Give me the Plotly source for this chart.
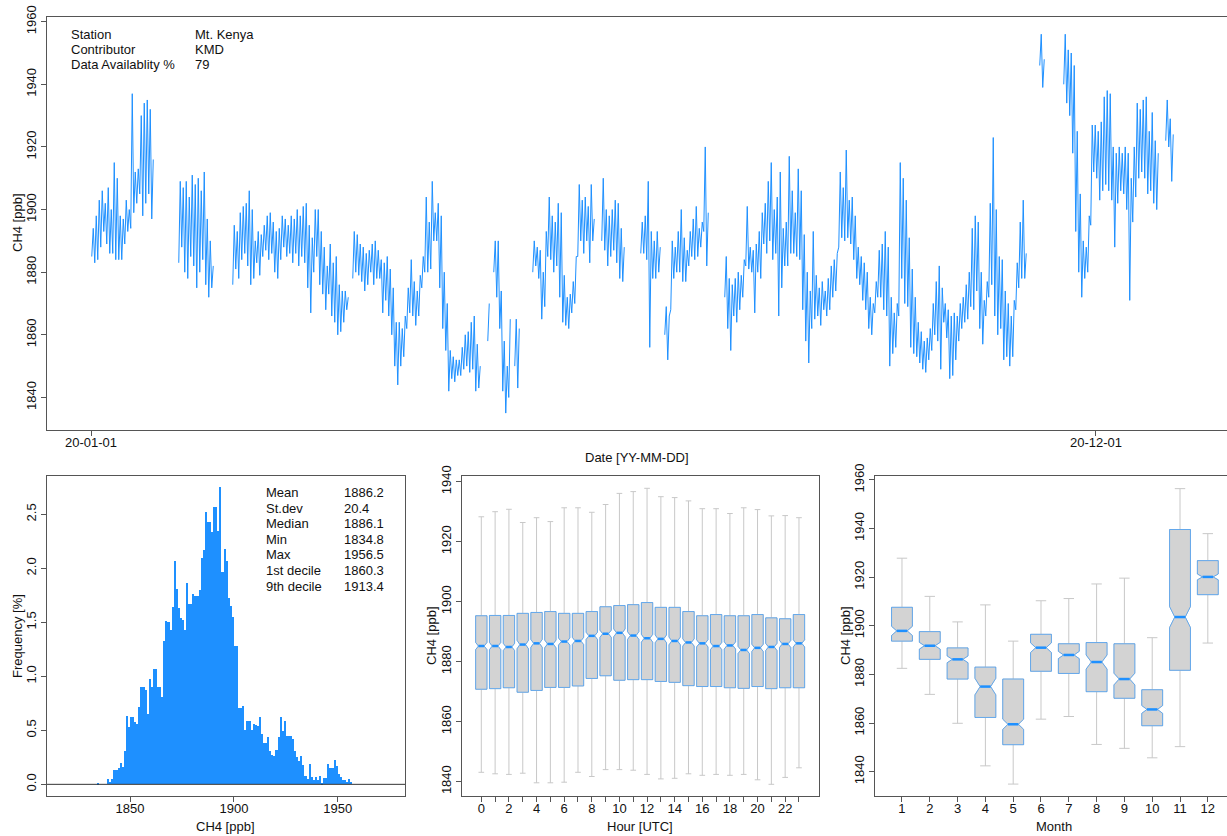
import plotly.graph_objects as go
import pandas as pd

W, H = 1227, 836
FONT = "Liberation Sans, Arial, sans-serif"
BLUE = "#1E90FF"
AXC = "#555555"

# ---------------- Time series (daily min / max) ----------------
# segments of consecutive days (day 0 = 2020-01-01)
segments = [(0, 20), (29, 40), (47, 85), (87, 129), (132, 132), (134, 139), (141, 142),
            (147, 167), (170, 177), (183, 189), (191, 205), (211, 311), (316, 317),
            (324, 355), (358, 360)]
daily_min = [
    1885, 1883, 1884, 1888, 1893, 1889, 1886, 1886, 1884, 1884, 1884, 1889, 1893, 1894, 1899, 1902, 1905, 1898, 1902, 1905, 1897,
    1883, 1888, 1880, 1878, 1885, 1882, 1875, 1880, 1884, 1876, 1872, 1875,
    1876, 1881, 1878, 1884, 1886, 1882, 1876, 1878, 1883, 1879, 1885, 1887, 1884, 1886, 1880, 1878, 1884, 1888, 1885, 1886, 1883, 1886, 1882,
    1885, 1883, 1875, 1867, 1880, 1885, 1876, 1873, 1868, 1873, 1866, 1864, 1860, 1861, 1864, 1868,
    1878, 1880, 1879, 1877, 1874, 1876, 1880, 1876, 1878, 1878, 1867, 1871, 1866, 1860, 1850, 1844, 1850, 1853, 1862, 1867, 1866,
    1863, 1866, 1875, 1880, 1880, 1881, 1890, 1890, 1875, 1862, 1855, 1842, 1846, 1845, 1847, 1847, 1849, 1850, 1848, 1849, 1842, 1843,
    1858,
    1880, 1872, 1862, 1842, 1835, 1840,
    1850, 1843,
    1880, 1882, 1878, 1865, 1869, 1885, 1884, 1880, 1882, 1872, 1864, 1863, 1862, 1867, 1870, 1885, 1890, 1886, 1890, 1883, 1890,
    1890, 1887, 1882, 1885, 1887, 1883, 1878, 1877,
    1886, 1886, 1884, 1856, 1878, 1878, 1880,
    1860, 1852, 1868, 1878, 1880, 1880, 1877, 1877, 1882, 1885, 1884, 1885, 1888, 1893, 1882,
    1872, 1862, 1855, 1866,
    1864, 1868, 1872, 1882, 1881, 1880, 1867, 1880, 1878, 1889, 1886, 1890, 1884, 1886, 1866, 1875, 1882, 1882, 1886, 1886,
    1885, 1884, 1868, 1858, 1851, 1862, 1865, 1866, 1863, 1868, 1866, 1868, 1872, 1874, 1888, 1891, 1890, 1891, 1889, 1884,
    1878, 1876, 1871, 1868, 1862, 1860, 1867, 1872, 1872, 1868, 1866, 1850, 1854, 1856, 1866, 1878, 1870, 1869, 1856, 1854,
    1853, 1851, 1849, 1848, 1852, 1855, 1860, 1858, 1849, 1864, 1859, 1846,
    1847, 1852, 1858, 1862, 1864, 1865, 1869, 1868, 1874, 1862, 1857, 1866, 1872, 1876, 1866, 1860, 1862, 1852, 1853, 1850,
    1853, 1868, 1875, 1878, 1878,
    1946, 1939,
    1940, 1934, 1930, 1918, 1893, 1880, 1872, 1878, 1880, 1895, 1912, 1910, 1903, 1906, 1908, 1906, 1903, 1888, 1902, 1906,
    1905, 1900, 1871, 1896, 1904, 1910, 1912, 1910, 1905, 1906, 1902, 1900,
    1922, 1920, 1909,
]
daily_max = [
    1894, 1898, 1903, 1906, 1902, 1907, 1900, 1915, 1910, 1898, 1897, 1903, 1900, 1937, 1912, 1913, 1930, 1934, 1935, 1932, 1916,
    1909, 1907, 1909, 1904, 1911, 1908, 1910, 1906, 1912, 1897, 1890, 1882,
    1895, 1893, 1899, 1901, 1902, 1906, 1900, 1890, 1893, 1892, 1895, 1898, 1899, 1896, 1893, 1894, 1898, 1897, 1895, 1898, 1897, 1900, 1898,
    1901, 1902, 1895, 1891, 1900, 1900, 1893, 1888, 1882, 1889, 1883, 1885, 1876, 1874, 1874, 1872,
    1893, 1892, 1889, 1888, 1886, 1887, 1889, 1890, 1887, 1884, 1883, 1885, 1881, 1875, 1864, 1864, 1862, 1866, 1875, 1884, 1877,
    1874, 1879, 1885, 1904, 1896, 1909, 1899, 1902, 1898, 1880, 1870, 1855, 1853, 1852, 1852, 1856, 1860, 1861, 1864, 1866, 1857, 1850,
    1870,
    1890, 1890, 1874, 1858, 1850, 1865,
    1865, 1862,
    1890, 1888, 1887, 1880, 1893, 1904, 1898, 1896, 1902, 1899, 1879, 1872, 1873, 1877, 1885, 1908, 1903, 1904, 1901, 1908, 1897,
    1910, 1900, 1898, 1900, 1903, 1902, 1894, 1888,
    1896, 1898, 1909, 1893, 1890, 1893, 1888,
    1869, 1866, 1890, 1888, 1893, 1900, 1891, 1887, 1893, 1897, 1901, 1894, 1896, 1920, 1899,
    1885, 1878, 1876, 1878,
    1880, 1879, 1884, 1901, 1888, 1887, 1889, 1893, 1899, 1902, 1909, 1915, 1900, 1904, 1912, 1894, 1896, 1917, 1906, 1899,
    1913, 1906, 1892, 1880, 1874, 1893, 1879, 1875, 1877, 1874, 1878, 1882, 1884, 1886, 1912, 1907, 1919, 1903, 1904, 1898,
    1888, 1885, 1883, 1880, 1872, 1870, 1877, 1887, 1889, 1893, 1888, 1872, 1867, 1870, 1915, 1910, 1903, 1891, 1881, 1872,
    1864, 1861, 1858, 1859, 1862, 1870, 1877, 1882, 1875, 1870, 1868, 1866,
    1867, 1866, 1870, 1872, 1876, 1880, 1894, 1898, 1896, 1880, 1871, 1877, 1902, 1923, 1900, 1885, 1884, 1874, 1870, 1866,
    1871, 1883, 1896, 1903, 1886,
    1956, 1948,
    1956, 1951, 1950, 1946, 1925, 1905, 1890, 1888, 1898, 1927, 1927, 1925, 1928, 1936, 1938, 1937, 1920, 1918, 1920, 1918,
    1920, 1918, 1910, 1920, 1934, 1932, 1935, 1936, 1925, 1931, 1922, 1918,
    1935, 1929, 1924,
]

# ---------------- Histogram (1 ppb bins, frequency %) ----------------
hist_start = 1834
hist_freq = [
    0.015, 0, 0, 0, 0, 0.05, 0.02, 0.05, 0.13, 0.13, 0.15, 0.2, 0.16, 0.31, 0.63, 0.53,
    0.62, 0.62, 0.58, 0.56, 0.72, 0.9, 0.9, 0.87, 0.65, 0.98, 0.9, 1.07, 1.07, 0.9,
    0.9, 0.81, 1.33, 1.51, 1.5, 1.43, 1.64, 2.07, 1.81, 1.63, 1.54, 1.52, 1.43, 1.86,
    1.67, 1.67, 1.76, 1.74, 1.74, 1.8, 2.1, 2.17, 2.52, 2.43, 2.43, 2.34, 2.57, 2.57,
    2.35, 2.75, 1.97, 2.18, 2.07, 1.73, 1.65, 1.55, 1.28, 1.28, 0.71, 0.71, 0.73, 0.5,
    0.59, 0.59, 0.5, 0.56, 0.55, 0.54, 0.62, 0.47, 0.38, 0.38, 0.44, 0.31, 0.27, 0.26,
    0.32, 0.44, 0.62, 0.49, 0.59, 0.45, 0.45, 0.45, 0.42, 0.31, 0.25, 0.22, 0.26, 0.18,
    0.08, 0.05, 0.19, 0.07, 0.04, 0.07, 0.04, 0.08, 0.01, 0.06, 0.06, 0.19, 0.15, 0.15,
    0.23, 0.17, 0.1, 0.07, 0.04, 0.04, 0.02, 0.05, 0.02,
]
stat_names = ["Mean", "St.dev", "Median", "Min", "Max", "1st decile", "9th decile"]
stat_values = ["1886.2", "20.4", "1886.1", "1834.8", "1956.5", "1860.3", "1913.4"]

info_names = ["Station", "Contributor", "Data Availablity %"]
info_values = ["Mt. Kenya", "KMD", "79"]

# ---------------- Hourly box plot ----------------
hours = list(range(24))
hour_hi = [1928.3, 1930.0, 1930.8, 1926.4, 1928.0, 1926.7, 1931.3, 1931.3, 1929.8, 1932.4, 1936.1, 1936.7,
           1937.8, 1935.0, 1934.7, 1933.6, 1931.0, 1931.0, 1929.4, 1931.3, 1930.7, 1928.6, 1928.7, 1928.0]
hour_q3 = [1895.3, 1895.4, 1895.4, 1896.1, 1896.4, 1896.7, 1896.1, 1896.1, 1896.7, 1898.3, 1898.7, 1899.0,
           1899.7, 1898.1, 1898.1, 1896.7, 1895.3, 1895.7, 1895.3, 1895.3, 1895.7, 1894.6, 1894.3, 1895.7]
hour_med = [1885.2, 1885.2, 1884.9, 1885.7, 1886.1, 1885.9, 1886.7, 1886.9, 1888.6, 1889.3, 1889.6, 1888.7,
            1887.8, 1887.6, 1886.9, 1886.4, 1886.1, 1885.2, 1885.4, 1883.9, 1884.6, 1884.9, 1885.9, 1886.1]
hour_q1 = [1870.8, 1871.0, 1871.3, 1869.8, 1870.4, 1871.4, 1871.4, 1871.9, 1874.4, 1875.3, 1873.8, 1874.0,
           1874.0, 1873.4, 1873.1, 1872.0, 1871.7, 1871.7, 1871.3, 1871.1, 1871.7, 1871.0, 1871.3, 1871.3]
hour_lo = [1843.1, 1842.6, 1842.4, 1842.8, 1839.6, 1839.6, 1839.8, 1843.1, 1841.7, 1844.0, 1844.0, 1843.8,
           1842.4, 1840.9, 1841.1, 1842.6, 1842.1, 1842.4, 1842.1, 1842.4, 1840.6, 1839.1, 1841.4, 1844.6]
hour_notch = [1.2, 1.2, 1.2, 1.4, 1.3, 1.3, 1.2, 1.2, 1.2, 1.2, 1.3, 1.3,
              1.3, 1.3, 1.3, 1.2, 1.2, 1.2, 1.2, 1.2, 1.2, 1.2, 1.2, 1.2]

# ---------------- Monthly box plot ----------------
months = list(range(1, 13))
mon_hi = [1927.8, 1912.1, 1901.6, 1908.6, 1893.7, 1910.3, 1911.2, 1917.2, 1919.6, 1895.1, 1956.4, 1937.9]
mon_q3 = [1907.6, 1897.6, 1890.9, 1883.0, 1878.1, 1896.5, 1892.6, 1893.1, 1892.6, 1873.7, 1939.6, 1926.8]
mon_med = [1897.9, 1891.8, 1886.2, 1875.0, 1859.5, 1891.0, 1888.0, 1885.1, 1878.1, 1865.6, 1903.6, 1920.1]
mon_q1 = [1893.7, 1886.2, 1878.1, 1862.3, 1851.1, 1881.3, 1880.4, 1872.9, 1870.2, 1858.9, 1881.7, 1912.8]
mon_lo = [1882.5, 1871.8, 1859.9, 1842.4, 1834.9, 1861.6, 1862.7, 1851.2, 1849.6, 1845.7, 1850.3, 1892.9]
mon_notch = [1.9, 1.4, 1.4, 3.4, 2.1, 2.0, 1.5, 2.9, 2.4, 1.6, 4.3, 1.2]

# =====================================================================
def fx(x):
    return x / W


def fy(y):
    return 1 - y / H


base = pd.Timestamp("2020-01-01")
ts_x, ts_y = [], []
k = 0
for a, b in segments:
    for d in range(a, b + 1):
        t = base + pd.Timedelta(days=d)
        ts_x.append((t + pd.Timedelta(hours=6)).strftime("%Y-%m-%d %H:%M"))
        ts_y.append(daily_min[k])
        ts_x.append((t + pd.Timedelta(hours=18)).strftime("%Y-%m-%d %H:%M"))
        ts_y.append(daily_max[k])
        k += 1
    ts_x.append((base + pd.Timedelta(days=b, hours=23)).strftime("%Y-%m-%d %H:%M"))
    ts_y.append(None)

fig = go.Figure()

fig.add_trace(go.Scatter(x=ts_x, y=ts_y, mode="lines", line=dict(color=BLUE, width=1),
                         connectgaps=False, xaxis="x", yaxis="y", hoverinfo="skip"))

bin_centers = [hist_start + i + 0.5 for i in range(len(hist_freq))]
fig.add_trace(go.Bar(x=bin_centers, y=hist_freq, width=1.0, marker=dict(color=BLUE, line=dict(width=0)),
                     xaxis="x2", yaxis="y2"))

WHISK = "#C8C8C8"
BOXLINE = "rgba(30,144,255,0.6)"
FILL = "#D3D3D3"


def add_boxes(pos, lo, q1, med, q3, hi, notch, width, xa, ya):
    fig.add_trace(go.Box(x=pos, q1=q1, median=med, q3=q3, lowerfence=lo, upperfence=hi,
                         notched=True, notchspan=notch, width=width, whiskerwidth=0.5,
                         fillcolor=FILL, line=dict(color=WHISK, width=1), boxpoints=False,
                         xaxis=xa, yaxis=ya, hoverinfo="skip"))
    fig.add_trace(go.Box(x=pos, q1=q1, median=med, q3=q3, lowerfence=q1, upperfence=q3,
                         notched=True, notchspan=notch, width=width, whiskerwidth=0,
                         fillcolor=FILL, line=dict(color=BOXLINE, width=1), boxpoints=False,
                         xaxis=xa, yaxis=ya, hoverinfo="skip"))
    mx, my = [], []
    for p, m in zip(pos, med):
        hw = width / 2 * 0.5
        mx += [p - hw, p + hw, None]
        my += [m, m, None]
    fig.add_trace(go.Scatter(x=mx, y=my, mode="lines", line=dict(color=BLUE, width=2.5),
                             xaxis=xa, yaxis=ya, hoverinfo="skip"))


add_boxes(hours, hour_lo, hour_q1, hour_med, hour_q3, hour_hi, hour_notch, 0.82, "x3", "y3")
add_boxes(months, mon_lo, mon_q1, mon_med, mon_q3, mon_hi, mon_notch, 0.75, "x4", "y4")

tickfont = dict(family=FONT, size=13, color="#111111")
common = dict(showline=True, linecolor=AXC, linewidth=1, ticks="outside", ticklen=5, tickcolor=AXC,
              showgrid=False, zeroline=False, tickfont=tickfont, automargin=False)
xcommon = dict(common, ticklabelstandoff=-5)

fig.update_layout(
    width=W, height=H, margin=dict(l=0, r=0, t=0, b=0, autoexpand=False),
    paper_bgcolor="white", plot_bgcolor="white",
    showlegend=False, boxmode="overlay", bargap=0,
    xaxis=dict(domain=[fx(47), 1.0], type="date", anchor="y", mirror=True,
               range=[(base - pd.Timedelta(days=14.67)).strftime("%Y-%m-%d %H:%M"),
                      (base + pd.Timedelta(days=378.67)).strftime("%Y-%m-%d %H:%M")],
               tickvals=["2020-01-01", "2020-12-01"], ticktext=["20-01-01", "20-12-01"], **xcommon),
    yaxis=dict(domain=[fy(430), fy(17)], range=[1829.6, 1961.5], anchor="x",
               tickvals=[1840, 1860, 1880, 1900, 1920, 1940, 1960], tickangle=-90, **common),
    xaxis2=dict(domain=[fx(47), fx(405)], range=[1810, 1982.4], anchor="y2", mirror=True,
                tickvals=[1850, 1900, 1950], **xcommon),
    yaxis2=dict(domain=[fy(796), fy(476)], range=[-0.108, 2.855], anchor="x2", mirror=True,
                tickvals=[0, 0.5, 1.0, 1.5, 2.0, 2.5], ticktext=["0.0", "0.5", "1.0", "1.5", "2.0", "2.5"],
                tickangle=-90, **common),
    xaxis3=dict(domain=[fx(461.7), fx(819)], range=[-1.42, 24.45], anchor="y3", mirror=True,
                tickvals=hours, ticktext=[str(h) if h % 2 == 0 else "" for h in hours], **xcommon),
    yaxis3=dict(domain=[fy(796), fy(476)], range=[1835.2, 1941.9], anchor="x3", mirror=True,
                tickvals=[1840, 1860, 1880, 1900, 1920, 1940], tickangle=-90, **common),
    xaxis4=dict(domain=[fx(875), 1.0], range=[0.03, 12.69], anchor="y4", mirror=True,
                tickvals=months, **xcommon),
    yaxis4=dict(domain=[fy(796), fy(476)], range=[1830.0, 1961.6], anchor="x4",
                tickvals=[1840, 1860, 1880, 1900, 1920, 1940, 1960], tickangle=-90, **common),
)

# zero line in histogram
fig.add_shape(type="line", xref="x2 domain", yref="y2", x0=0, x1=1, y0=0, y1=0,
              line=dict(color="#333333", width=1))

afont = dict(family=FONT, size=13, color="#111111")


def text(x, y, s, anchor="left", angle=0):
    fig.add_annotation(x=fx(x), y=fy(y), xref="paper", yref="paper", text=s, showarrow=False,
                       xanchor=anchor, yanchor="middle", font=afont, textangle=angle)


# axis titles
text(637, 457, "Date [YY-MM-DD]", "center")
text(17, 223, "CH4 [ppb]", "center", -90)
text(226, 826, "CH4 [ppb]", "center")
text(17, 636, "Frequency [%]", "center", -90)
text(640, 826, "Hour [UTC]", "center")
text(431, 636, "CH4 [ppb]", "center", -90)
text(1054, 826, "Month", "center")
text(845, 636, "CH4 [ppb]", "center", -90)

# info block
for i, (n, v) in enumerate(zip(info_names, info_values)):
    yy = 34 + i * 15.5
    text(69, yy, n)
    text(193, yy, v)

# stats block
for i, (n, v) in enumerate(zip(stat_names, stat_values)):
    yy = 492.7 + i * 15.55
    text(264, yy, n)
    text(342, yy, v)

fig.write_html("out.html", config={"displayModeBar": False},
               post_script="document.body.style.margin='0px';document.body.style.overflow='hidden';")
